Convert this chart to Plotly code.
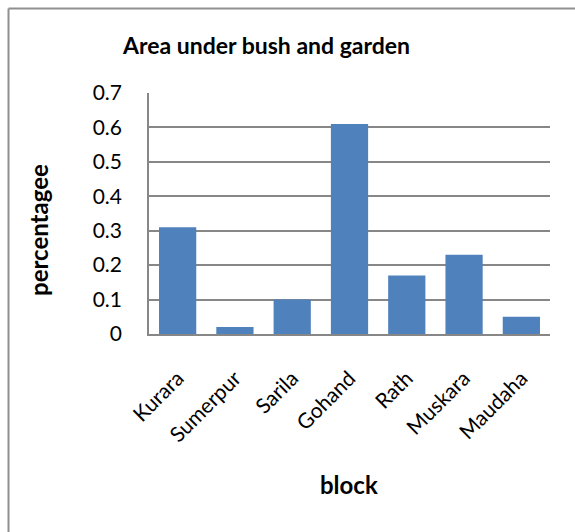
import plotly.graph_objects as go

# Block-wise share of area under bush and garden
blocks = ["Kurara", "Sumerpur", "Sarila", "Gohand", "Rath", "Muskara", "Maudaha"]
percent = [0.31, 0.02, 0.10, 0.61, 0.17, 0.23, 0.05]
y_ticks = [0, 0.1, 0.2, 0.3, 0.4, 0.5, 0.6, 0.7]
y_tick_text = ["0", "0.1", "0.2", "0.3", "0.4", "0.5", "0.6", "0.7"]

W, H = 575, 532
# plot-area box in pixels
PL, PR, PT, PB = 149, 550, 93, 334
FONT = "Lato"
GRID = "#878787"


def px_x(x):
    return (x - PL) / (PR - PL)


def px_y(y):
    return (PB - y) / (PB - PT)


fig = go.Figure(
    go.Bar(
        x=blocks,
        y=percent,
        marker=dict(color="#4F81BD", line=dict(width=0)),
        width=0.65,
    )
)

fig.update_layout(
    width=W,
    height=H,
    margin=dict(l=PL, r=W - PR, t=PT, b=H - PB),
    paper_bgcolor="white",
    plot_bgcolor="white",
    showlegend=False,
    font=dict(family=FONT, size=19, color="black"),
    bargap=0.35,
)

fig.update_yaxes(
    range=[0, 0.7],
    tickvals=y_ticks,
    ticktext=y_tick_text,
    showgrid=True,
    gridcolor=GRID,
    gridwidth=1.6,
    showline=True,
    linecolor=GRID,
    linewidth=1.6,
    zeroline=False,
    ticks="",
    ticklabelstandoff=21,
    tickfont=dict(family=FONT, size=21),
)

fig.update_xaxes(
    showline=True,
    linecolor=GRID,
    linewidth=1.6,
    ticks="",
    tickangle=-45,
    ticklabelstandoff=22,
    tickfont=dict(family=FONT, size=21),
)

annotations = [
    dict(text="<b>Area under bush and garden</b>", x=px_x(266), y=px_y(45),
         font=dict(size=23)),
    dict(text="<b>percentagee</b>", x=px_x(38), y=px_y(230), textangle=-90,
         font=dict(size=24)),
    dict(text="<b>block</b>", x=px_x(349), y=px_y(484), font=dict(size=24)),
]
for a in annotations:
    a.update(xref="paper", yref="paper", showarrow=False,
             xanchor="center", yanchor="middle")
fig.update_layout(annotations=annotations)

# chart frame: left and top edges
fig.add_shape(type="line", xref="paper", yref="paper",
              x0=px_x(8.5), x1=px_x(8.5), y0=px_y(8.5), y1=px_y(H + 2),
              line=dict(color="#8f8f8f", width=2))
fig.add_shape(type="line", xref="paper", yref="paper",
              x0=px_x(8.5), x1=px_x(W + 2), y0=px_y(8.5), y1=px_y(8.5),
              line=dict(color="#8f8f8f", width=2))

fig.write_html("out.html")
